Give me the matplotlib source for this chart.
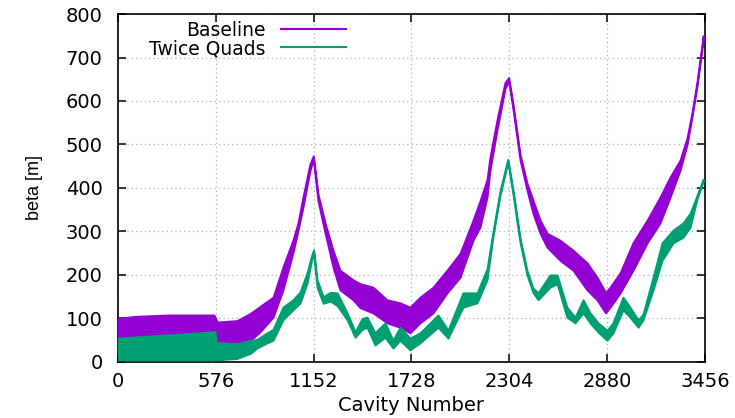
import numpy as np
import matplotlib
matplotlib.use("Agg")
import matplotlib.pyplot as plt
from matplotlib.lines import Line2D

# beta envelopes (cavity number, lower edge, upper edge)
base_x = [0, 100, 300, 565, 585, 700, 780, 830, 913, 971, 1030, 1060, 1089, 1130, 1150,
          1178, 1219, 1266, 1307, 1384, 1425, 1501, 1584, 1660, 1719, 1778, 1855, 1937,
          2014, 2090, 2131, 2173, 2190, 2231, 2278, 2300, 2326, 2367, 2408, 2443, 2485,
          2526, 2602, 2679, 2761, 2820, 2870, 2897, 2956, 3032, 3115, 3191, 3250, 3309,
          3350, 3380, 3409, 3445]
base_lo = [40, 45, 48, 50, 45, 44, 50, 67, 103, 166, 251, 303, 356, 440, 466,
           370, 297, 218, 166, 143, 125, 113, 90, 80, 67, 90, 113, 159,
           195, 280, 310, 380, 441, 533, 628, 646, 580, 465, 395, 342, 296,
           264, 234, 211, 166, 143, 113, 126, 159, 211, 274, 320, 379, 441,
           500, 565, 635, 740]
base_hi = [100, 105, 108, 108, 92, 95, 112, 126, 149, 218, 280, 320, 379, 455, 474,
           385, 320, 257, 211, 189, 180, 172, 143, 136, 126, 149, 172, 211,
           250, 326, 370, 420, 471, 556, 642, 654, 592, 477, 411, 372, 326,
           296, 280, 257, 228, 195, 160, 172, 205, 274, 326, 379, 425, 464,
           515, 575, 645, 750]

quad_x = [0, 200, 400, 570, 580, 700, 780, 818, 877, 913, 971, 1030, 1072, 1113, 1140,
          1152, 1172, 1208, 1250, 1290, 1349, 1396, 1437, 1466, 1513, 1572, 1619, 1660,
          1719, 1778, 1884, 1943, 2031, 2114, 2173, 2208, 2249, 2295, 2326, 2367, 2408,
          2443, 2473, 2543, 2585, 2643, 2691, 2738, 2779, 2826, 2879, 2914, 2973, 3014,
          3062, 3091, 3150, 3203, 3268, 3327, 3368, 3409, 3445]
quad_lo = [5, 5, 5, 5, 5, 8, 20, 32, 44, 50, 97, 120, 136, 181, 235,
           250, 172, 135, 140, 130, 97, 57, 75, 80, 39, 57, 32, 50,
           28, 44, 80, 55, 126, 136, 190, 290, 383, 460, 385, 275, 200,
           160, 143, 172, 180, 103, 90, 113, 90, 69, 50, 67, 120, 103,
           80, 97, 166, 234, 274, 287, 310, 375, 415]
quad_hi = [55, 60, 65, 70, 45, 42, 50, 52, 67, 75, 126, 143, 161, 205, 245,
           258, 189, 150, 160, 159, 113, 69, 100, 103, 67, 90, 50, 80,
           55, 67, 108, 73, 159, 159, 215, 300, 393, 466, 395, 285, 210,
           170, 159, 200, 200, 126, 103, 143, 113, 90, 73, 90, 149, 126,
           97, 110, 195, 274, 303, 320, 342, 383, 420]

labels = ["Baseline", "Twice Quads"]
colors = ["#9400d3", "#009e73"]
xticks = [0, 576, 1152, 1728, 2304, 2880, 3456]
yticks = [0, 100, 200, 300, 400, 500, 600, 700, 800]

plt.rcParams["font.family"] = ["DejaVu Sans"]

fig = plt.figure(figsize=(7.35, 4.18), dpi=100)
ax = fig.add_axes([0.1605, 0.134, 0.7987, 0.8325])

ax.fill_between(base_x, base_lo, base_hi, color=colors[0], lw=1.4, zorder=3)
ax.fill_between(quad_x, quad_lo, quad_hi, color=colors[1], lw=1.4, zorder=4)

ax.set_xlim(0, 3456)
ax.set_ylim(0, 800)
ax.set_xticks(xticks)
ax.set_yticks(yticks)
ax.tick_params(direction="in", length=6, width=1.1, top=True, right=True,
               labelsize=14)
ax.tick_params(axis="x", pad=7)
ax.tick_params(axis="y", pad=11)
ax.grid(True, color="#b0b0b0", linestyle=(0, (1, 2.5)), linewidth=0.9, zorder=1)
for s in ax.spines.values():
    s.set_linewidth(1.2)

ax.set_xlabel("Cavity Number", fontsize=14, labelpad=4)
ax.set_ylabel("beta [m]", fontsize=13, family="Liberation Sans", labelpad=16)

handles = [Line2D([], [], color=c, lw=1.5) for c in colors]
ax.legend(handles, labels, loc="upper left", bbox_to_anchor=(0.053, 0.98),
          markerfirst=False, frameon=False, fontsize=13.5, handlelength=3.5,
          handletextpad=0.8, labelspacing=-0.05, borderpad=0, borderaxespad=0)

fig.savefig("out.png", dpi=100)
